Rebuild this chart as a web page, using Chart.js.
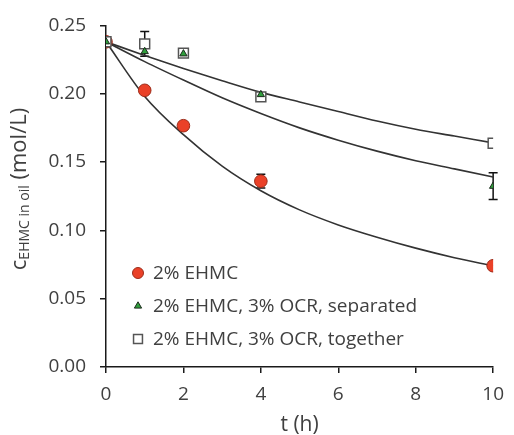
<!DOCTYPE html>
<html>
<head>
<meta charset="utf-8">
<script src="https://cdn.jsdelivr.net/npm/chart.js@4"></script>
<style>
    html, body { margin: 0; padding: 0; background: #ffffff; }
    #wrap { width: 514px; height: 435px; }
</style>
</head>
<body>
<div id="wrap"><canvas id="ehmc-chart"></canvas></div>
<script>
const times = [0, 1, 2, 4, 10];
const ehmc = [0.238, 0.2025, 0.1766, 0.136, 0.0741];
const ehmcErr = [0, 0, 0, 0.005, 0];
const separated = [0.238, 0.2309, 0.2292, 0.1994, 0.1323];
const separatedErr = [0, 0, 0, 0, 0.0098];
const together = [0.238, 0.2365, 0.2297, 0.1977, 0.1637];
const togetherErr = [0, 0.009, 0, 0, 0];

const fitTimes = [0, 1, 2, 3, 4, 5, 6, 7, 8, 9, 10];
const ehmcFit = [0.238, 0.198, 0.170, 0.147, 0.129, 0.115, 0.104, 0.095, 0.087, 0.080, 0.074];
const separatedFit = [0.238, 0.2235, 0.210, 0.197, 0.1855, 0.175, 0.166, 0.158, 0.151, 0.145, 0.139];
const togetherFit = [0.238, 0.228, 0.2185, 0.2095, 0.201, 0.194, 0.187, 0.180, 0.174, 0.169, 0.164];

const seriesNames = ['2% EHMC', '2% EHMC, 3% OCR, separated', '2% EHMC, 3% OCR, together'];
const xTicks = [0, 2, 4, 6, 8, 10];
const yTicks = [0, 0.05, 0.10, 0.15, 0.20, 0.25];

const FONT = '"Open Sans", sans-serif';
const TEXT = '#404040';
const AXIS = '#1a1a1a';

const toPoints = (xs, ys) => xs.map((x, i) => ({ x, y: ys[i] }));

const markerStyles = [
    { pointStyle: 'circle', radius: 6.3, bg: '#ea4128', border: '#9c2c1a', width: 1 },
    { pointStyle: 'triangle', radius: 4.2, bg: '#2f9e3c', border: '#1d2a1d', width: 1 },
    { pointStyle: 'rect', radius: 7, bg: '#ffffff', border: '#555555', width: 1.5 },
];
const legendStyles = [
    { pointStyle: 'circle', radius: 5.5 },
    { pointStyle: 'triangle', radius: 4.2 },
    { pointStyle: 'rect', radius: 6.3 },
];

function fitLine(ys) {
    return {
        type: 'line',
        data: toPoints(fitTimes, ys),
        borderColor: '#333333',
        borderWidth: 1.6,
        pointRadius: 0,
        cubicInterpolationMode: 'monotone',
        fill: false,
        order: 3,
    };
}

function markers(ys, idx, order) {
    const s = markerStyles[idx];
    return {
        label: seriesNames[idx],
        data: toPoints(times, ys),
        pointStyle: s.pointStyle,
        pointRadius: s.radius,
        pointBackgroundColor: s.bg,
        pointBorderColor: s.border,
        pointBorderWidth: s.width,
        showLine: false,
        order,
    };
}

const errorSets = [
    { values: ehmc, errors: ehmcErr },
    { values: separated, errors: separatedErr },
    { values: together, errors: togetherErr },
];

const errorBars = {
    id: 'errorBars',
    beforeDatasetsDraw(chart) {
        const { ctx, scales: { x, y } } = chart;
        ctx.save();
        ctx.strokeStyle = '#111111';
        ctx.lineWidth = 1.5;
        errorSets.forEach(({ values, errors }) => {
            times.forEach((t, i) => {
                if (!errors[i]) return;
                const px = x.getPixelForValue(t);
                const top = y.getPixelForValue(values[i] + errors[i]);
                const bottom = y.getPixelForValue(values[i] - errors[i]);
                ctx.beginPath();
                ctx.moveTo(px, top);
                ctx.lineTo(px, bottom);
                ctx.moveTo(px - 4.5, top);
                ctx.lineTo(px + 4.5, top);
                ctx.moveTo(px - 4.5, bottom);
                ctx.lineTo(px + 4.5, bottom);
                ctx.stroke();
            });
        });
        ctx.restore();
    },
};

const labelsAndLegend = {
    id: 'labelsAndLegend',
    afterDraw(chart) {
        const { ctx, chartArea } = chart;
        ctx.save();
        ctx.fillStyle = TEXT;

        // x title
        ctx.font = '21px ' + FONT;
        ctx.textAlign = 'center';
        ctx.textBaseline = 'middle';
        ctx.fillText('t (h)', (chartArea.left + chartArea.right) / 2, 425);

        // y title with subscript
        const mainFont = '22px ' + FONT;
        const subFont = '14px ' + FONT;
        const parts = [
            { text: 'c', font: mainFont, dy: 0 },
            { text: 'EHMC in oil', font: subFont, dy: 5 },
            { text: ' (mol/L)', font: mainFont, dy: 0 },
        ];
        let total = 0;
        parts.forEach((p) => {
            ctx.font = p.font;
            p.w = ctx.measureText(p.text).width;
            total += p.w;
        });
        ctx.translate(20, 189);
        ctx.rotate(-Math.PI / 2);
        ctx.textAlign = 'left';
        let cx = -total / 2;
        parts.forEach((p) => {
            ctx.font = p.font;
            ctx.fillText(p.text, cx, p.dy);
            cx += p.w;
        });
        ctx.setTransform(1, 0, 0, 1, 0, 0);

        // legend inside the plot
        const rowsY = [273, 306, 339];
        seriesNames.forEach((name, i) => {
            const s = markerStyles[i];
            const l = legendStyles[i];
            ctx.fillStyle = s.bg;
            ctx.strokeStyle = s.border;
            ctx.lineWidth = s.width;
            Chart.helpers.drawPoint(ctx, { pointStyle: l.pointStyle, radius: l.radius, borderWidth: s.width }, 138, rowsY[i]);
            ctx.fillStyle = TEXT;
            ctx.font = '19px ' + FONT;
            ctx.textAlign = 'left';
            ctx.textBaseline = 'middle';
            ctx.fillText(name, 153, rowsY[i] + 1);
        });
        ctx.restore();
    },
};

new Chart(document.getElementById('ehmc-chart'), {
    type: 'scatter',
    data: {
        datasets: [
            markers(ehmc, 0, 2),
            markers(separated, 1, 0),
            markers(together, 2, 1),
            fitLine(ehmcFit),
            fitLine(separatedFit),
            fitLine(togetherFit),
        ],
    },
    options: {
        responsive: true,
        maintainAspectRatio: false,
        animation: false,
        layout: { padding: { top: 23, right: 12, bottom: 0, left: 0 } },
        plugins: {
            legend: { display: false },
            tooltip: { enabled: false },
        },
        scales: {
            x: {
                type: 'linear',
                min: 0,
                max: 10,
                afterFit: (scale) => { scale.height = 68; },
                afterBuildTicks: (scale) => { scale.ticks = xTicks.map((value) => ({ value })); },
                border: { display: true, color: AXIS, width: 1.5 },
                grid: { display: true, drawOnChartArea: false, drawTicks: true, tickLength: 6, color: AXIS, lineWidth: 1.5 },
                ticks: { color: TEXT, font: { family: FONT, size: 19 }, padding: 10, maxRotation: 0 },
            },
            y: {
                type: 'linear',
                min: 0,
                max: 0.25,
                afterFit: (scale) => { scale.width = 106; },
                afterBuildTicks: (scale) => { scale.ticks = yTicks.map((value) => ({ value })); },
                border: { display: true, color: AXIS, width: 1.5 },
                grid: { display: true, drawOnChartArea: false, drawTicks: true, tickLength: 6, color: AXIS, lineWidth: 1.5 },
                ticks: {
                    color: TEXT,
                    font: { family: FONT, size: 19 },
                    padding: 14,
                    callback: (value) => Number(value).toFixed(2),
                },
            },
        },
    },
    plugins: [errorBars, labelsAndLegend],
});
</script>
</body>
</html>
